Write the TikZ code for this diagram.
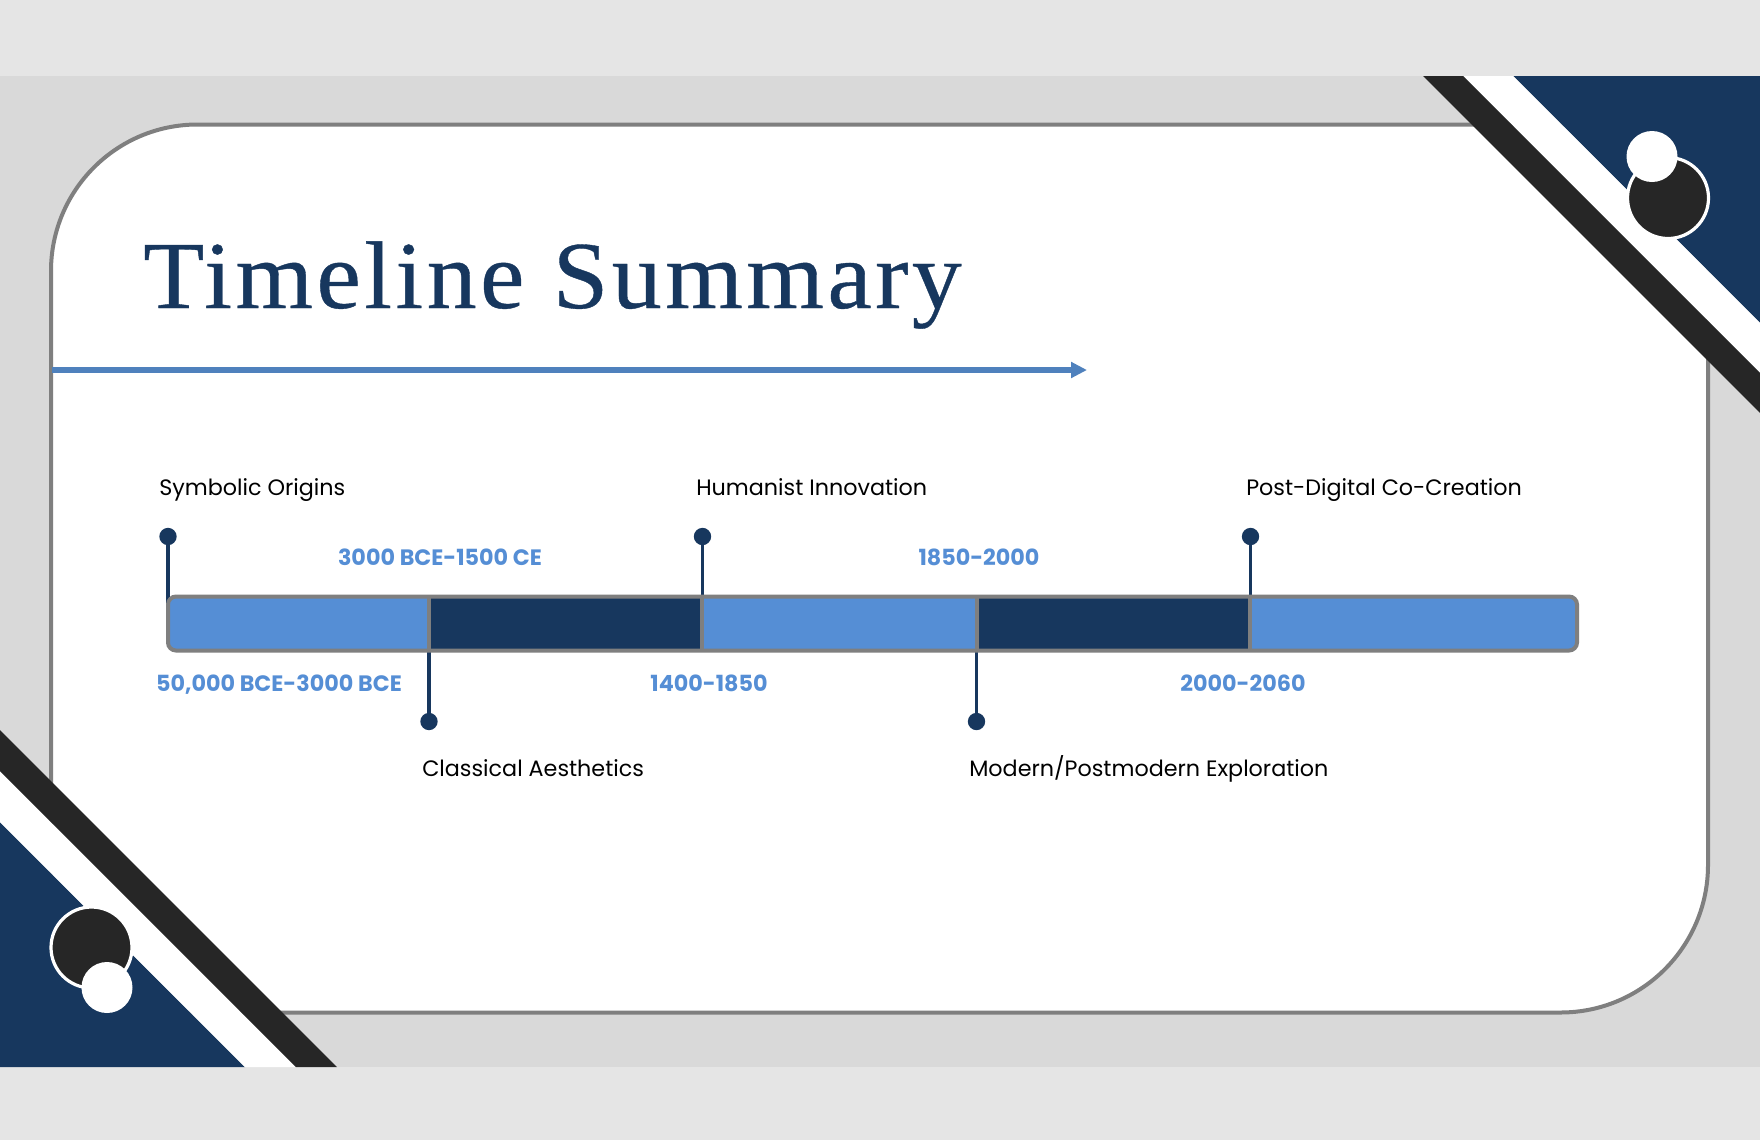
\documentclass[tikz,border=0pt]{standalone}
\usepackage{fontspec}
\setmainfont{Poppins}
\newfontfamily\titlefont[LetterSpace=3.6,FakeStretch=1.04,FakeBold=0.4]{Liberation Serif}
\usetikzlibrary{arrows.meta}
\definecolor{bandgrey}{HTML}{E5E5E5}
\definecolor{midgrey}{HTML}{D9D9D9}
\definecolor{edgegrey}{HTML}{7F7F7F}
\definecolor{navy}{HTML}{17375E}
\definecolor{barblue}{HTML}{558ED5}
\definecolor{arrowblue}{HTML}{4F81BD}
\definecolor{inkdark}{HTML}{262626}
\tikzset{
  x=0.75pt,y=-0.75pt,
  dotnode/.style={circle,fill=navy,inner sep=0pt,minimum size=13pt},
  stem/.style={draw=navy,line width=2.6pt},
  evlabel/.style={anchor=base west,inner sep=0pt,font=\fontsize{16.7}{20}\selectfont,text=black},
  datelabel/.style={anchor=base,inner sep=0pt,font=\fontsize{16.7}{20}\selectfont\bfseries,text=barblue},
  segnavy/.style={fill=navy},
  divider/.style={draw=edgegrey,line width=2.6pt}
}
\begin{document}
\begin{tikzpicture}
\useasboundingbox (0,0) rectangle (1760,1140);
\fill[bandgrey] (0,0) rectangle (1760,1140);
\fill[midgrey] (0,76) rectangle (1760,1067);
% card
\draw[edgegrey,fill=white,line width=3pt]
  (197,124.5) -- (1708,124.5) -- (1708,865)
  arc[start angle=0,end angle=90,radius=147.5] -- (51,1012.5) -- (51,271)
  arc[start angle=180,end angle=270,radius=146.5] -- cycle;
% corner top right
\fill[navy] (1513,76) -- (1760,76) -- (1760,323) -- cycle;
\fill[white] (1463,76) -- (1513,76) -- (1760,323) -- (1760,373) -- cycle;
\fill[inkdark] (1423,76) -- (1463,76) -- (1760,373) -- (1760,413) -- cycle;
\fill[inkdark,draw=white,line width=2.4pt] (1668,198) circle[radius=40.5];
\fill[white] (1652,156.5) circle[radius=25.5];
% corner bottom left
\fill[navy] (0,822) -- (245,1067) -- (0,1067) -- cycle;
\fill[white] (0,771) -- (296,1067) -- (245,1067) -- (0,822) -- cycle;
\fill[inkdark] (0,730) -- (337,1067) -- (296,1067) -- (0,771) -- cycle;
\fill[inkdark,draw=white,line width=2.4pt] (91.5,947.5) circle[radius=40.5];
\fill[white] (107,987.5) circle[radius=25.5];
% title and arrow
\node[anchor=base west,inner sep=0pt,text=navy,font=\fontsize{72}{80}\selectfont\titlefont] (title) at (143,308) {Timeline Summary};
\coordinate (arrowstart) at (52,370);
\coordinate (arrowend) at (1087,370);
\draw[arrowblue,line width=4.2pt,-{Triangle[length=12pt,width=11.5pt]}] (arrowstart) -- (arrowend);
% dots and stems
\node[dotnode] (d1) at (168,536.5) {};
\node[dotnode] (d2) at (429,721.5) {};
\node[dotnode] (d3) at (702.5,536.5) {};
\node[dotnode] (d4) at (976.5,721.5) {};
\node[dotnode] (d5) at (1250.5,536.5) {};
\coordinate (b1) at (168,605);
\coordinate (b2) at (429,645);
\coordinate (b3) at (702.5,605);
\coordinate (b4) at (976.5,645);
\coordinate (b5) at (1250.5,605);
\draw[stem] (d1) -- (b1);
\draw[stem] (d2) -- (b2);
\draw[stem] (d3) -- (b3);
\draw[stem] (d4) -- (b4);
\draw[stem] (d5) -- (b5);
% bar
\fill[barblue,rounded corners=6pt] (168,596.5) rectangle (1577,650.5);
\fill[segnavy] (429,596.5) rectangle (702,650.5);
\fill[segnavy] (977,596.5) rectangle (1250,650.5);
\draw[divider] (429,596.5) -- (429,650.5);
\draw[divider] (702,596.5) -- (702,650.5);
\draw[divider] (977,596.5) -- (977,650.5);
\draw[divider] (1250,596.5) -- (1250,650.5);
\draw[edgegrey,line width=3pt,rounded corners=6pt] (168,596.5) rectangle (1577,650.5);
% labels
\node[evlabel] (l1) at (159,495.2) {Symbolic Origins};
\node[evlabel] (l2) at (422,776.2) {Classical Aesthetics};
\node[evlabel] (l3) at (696,495.2) {Humanist Innovation};
\node[evlabel] (l4) at (969,776.2) {Modern/Postmodern Exploration};
\node[evlabel] (l5) at (1246,495.2) {Post-Digital Co-Creation};
\node[datelabel] (t1) at (279,691.3) {50,000 BCE-3000 BCE};
\node[datelabel] (t2) at (440,565.3) {3000 BCE-1500 CE};
\node[datelabel] (t3) at (709,691.3) {1400-1850};
\node[datelabel] (t4) at (979,565.3) {1850-2000};
\node[datelabel] (t5) at (1243,691.3) {2000-2060};
\end{tikzpicture}
\end{document}
